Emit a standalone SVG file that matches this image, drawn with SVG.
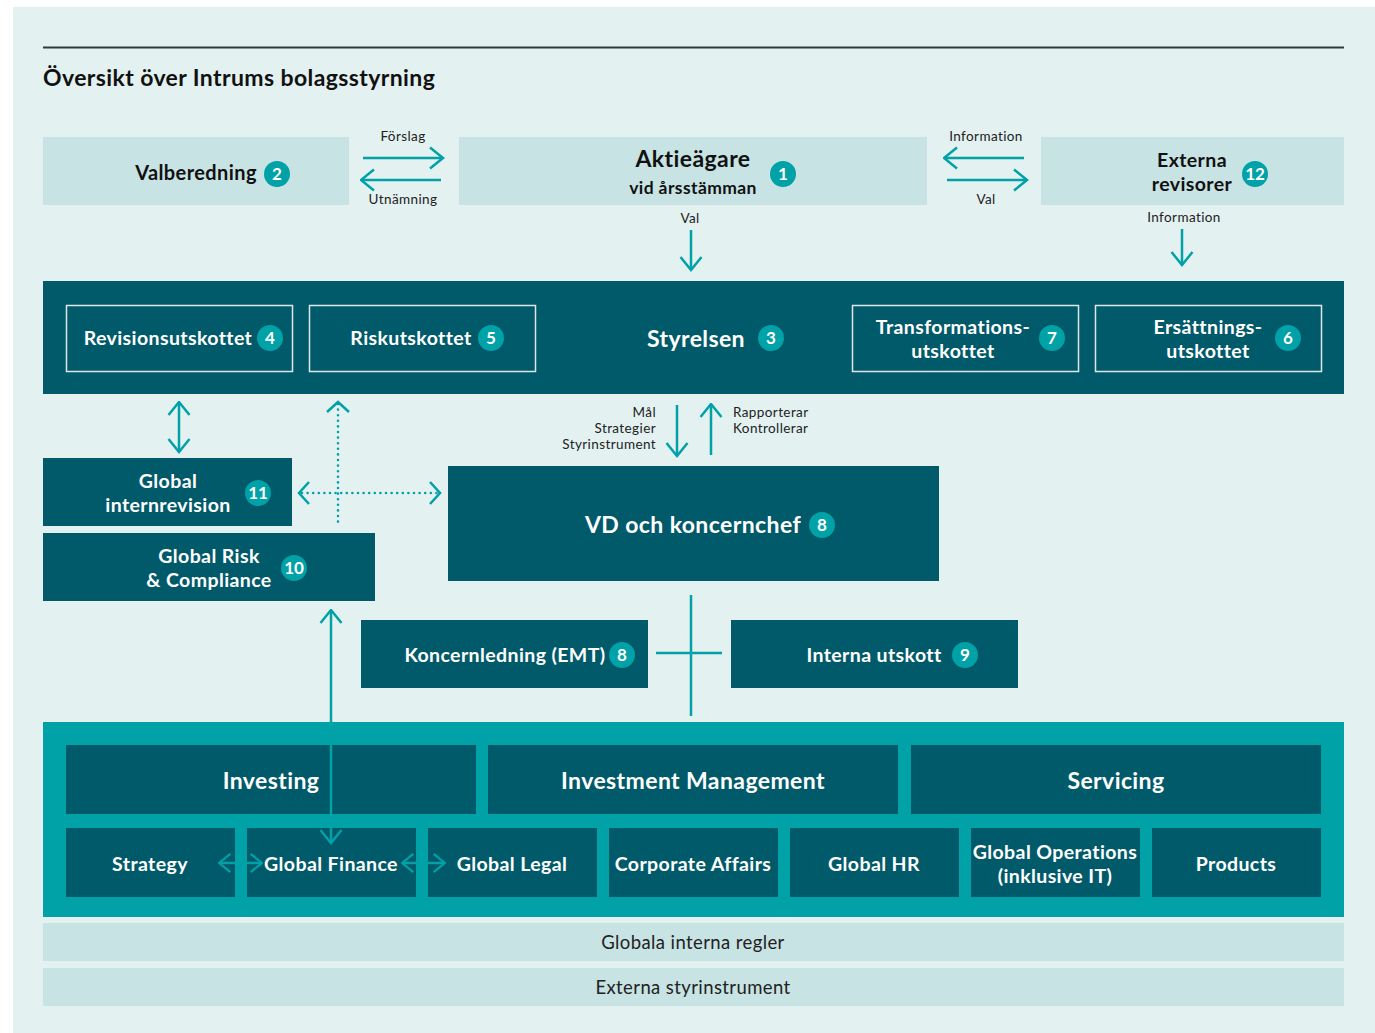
<svg xmlns="http://www.w3.org/2000/svg" width="1375" height="1033" viewBox="0 0 1375 1033">
<style>
text{font-family:"Lato","Noto Sans",sans-serif;letter-spacing:0.4px}
.light{fill:#c8e3e3}
.dark{fill:#015a69}
.teal{fill:#01a1a8}
.sub{fill:none;stroke:#dde6e8;stroke-width:1.5}
.h{font-weight:700;fill:#111;text-anchor:middle}
.w{font-weight:700;fill:#fff;text-anchor:middle}
.lbl{font-size:13.5px;fill:#222}
.badge circle{fill:#01a1a8}
.badge text{font-weight:700;fill:#fff;text-anchor:middle;font-size:17px;letter-spacing:0}
.ln{stroke:#01a1a8;stroke-width:2.5;fill:none}
.dot{stroke:#01a1a8;stroke-width:2.6;fill:none;stroke-dasharray:0 5.6;stroke-linecap:round}
.bar{font-size:18.5px;fill:#222;text-anchor:middle}
</style>
<defs>
<marker id="ah" viewBox="0 0 16 24" markerUnits="userSpaceOnUse" markerWidth="16" markerHeight="24" refX="14.5" refY="12" orient="auto-start-reverse">
<path d="M1.5,1.5 L14.5,12 L1.5,22.5" fill="none" stroke="#01a1a8" stroke-width="2.5"/>
</marker>
<marker id="ahs" viewBox="0 0 16 24" markerUnits="userSpaceOnUse" markerWidth="14" markerHeight="21" refX="14.5" refY="12" orient="auto-start-reverse">
<path d="M1.5,1.5 L14.5,12 L1.5,22.5" fill="none" stroke="#01a1a8" stroke-width="2.5"/>
</marker>
</defs>
<rect x="13" y="7" width="1362" height="1026" fill="#e3f1f1"/>
<line x1="43" y1="47.5" x2="1344" y2="47.5" stroke="#333a3c" stroke-width="2"/>
<text x="43" y="86" font-size="23" font-weight="700" fill="#111">Översikt över Intrums bolagsstyrning</text>

<g id="valberedning">
<rect class="light" x="43" y="137" width="306" height="68"/>
<text class="h" x="196" y="180" font-size="20">Valberedning</text>
<g class="badge"><circle cx="277" cy="174" r="13"/><text x="277" y="180">2</text></g>
</g>
<g id="aktieagare">
<rect class="light" x="459" y="137" width="468" height="68"/>
<text class="h" x="693" y="167" font-size="23">Aktieägare</text>
<text class="h" x="693" y="194" font-size="17.5">vid årsstämman</text>
<g class="badge"><circle cx="783" cy="174" r="13"/><text x="783" y="180">1</text></g>
</g>
<g id="externa-revisorer">
<rect class="light" x="1041" y="137" width="303" height="68"/>
<text class="h" x="1192" y="167" font-size="19.5">Externa</text>
<text class="h" x="1192" y="191" font-size="19.5">revisorer</text>
<g class="badge"><circle cx="1255" cy="174" r="13"/><text x="1255" y="180">12</text></g>
</g>

<g id="styrelsen">
<rect class="dark" x="43" y="281" width="1301" height="113"/>
<text class="w" x="696" y="347" font-size="23">Styrelsen</text>
<g class="badge"><circle cx="771" cy="338" r="13"/><text x="771" y="344">3</text></g>
</g>
<g id="revisionsutskottet">
<rect class="sub" x="66.5" y="305.5" width="226" height="66"/>
<text class="w" x="168" y="345" font-size="19.5">Revisionsutskottet</text>
<g class="badge"><circle cx="270" cy="338" r="13"/><text x="270" y="344">4</text></g>
</g>
<g id="riskutskottet">
<rect class="sub" x="309.5" y="305.5" width="226" height="66"/>
<text class="w" x="411" y="345" font-size="19.5">Riskutskottet</text>
<g class="badge"><circle cx="491" cy="338" r="13"/><text x="491" y="344">5</text></g>
</g>
<g id="transformationsutskottet">
<rect class="sub" x="852.5" y="305.5" width="226" height="66"/>
<text class="w" x="953" y="334" font-size="19.5">Transformations-</text>
<text class="w" x="953" y="358" font-size="19.5">utskottet</text>
<g class="badge"><circle cx="1052" cy="338" r="13"/><text x="1052" y="344">7</text></g>
</g>
<g id="ersattningsutskottet">
<rect class="sub" x="1095.5" y="305.5" width="226" height="66"/>
<text class="w" x="1208" y="334" font-size="19.5">Ersättnings-</text>
<text class="w" x="1208" y="358" font-size="19.5">utskottet</text>
<g class="badge"><circle cx="1288" cy="338" r="13"/><text x="1288" y="344">6</text></g>
</g>

<g id="global-internrevision">
<rect class="dark" x="43" y="458" width="249" height="68"/>
<text class="w" x="168" y="488" font-size="19.5">Global</text>
<text class="w" x="168" y="512" font-size="19.5">internrevision</text>
<g class="badge"><circle cx="258" cy="493" r="13"/><text x="258" y="499">11</text></g>
</g>
<g id="global-risk-compliance">
<rect class="dark" x="43" y="533" width="332" height="68"/>
<text class="w" x="209" y="563" font-size="19.5">Global Risk</text>
<text class="w" x="209" y="587" font-size="19.5">&amp; Compliance</text>
<g class="badge"><circle cx="294" cy="568" r="13"/><text x="294" y="574">10</text></g>
</g>
<g id="vd">
<rect class="dark" x="448" y="466" width="491" height="115"/>
<text class="w" x="693" y="533" font-size="23">VD och koncernchef</text>
<g class="badge"><circle cx="822" cy="525" r="13"/><text x="822" y="531">8</text></g>
</g>
<g id="koncernledning">
<rect class="dark" x="361" y="620" width="287" height="68"/>
<text class="w" x="505" y="662" font-size="19.5">Koncernledning (EMT)</text>
<g class="badge"><circle cx="622" cy="655" r="13"/><text x="622" y="661">8</text></g>
</g>
<g id="interna-utskott">
<rect class="dark" x="731" y="620" width="287" height="68"/>
<text class="w" x="874" y="662" font-size="19.5">Interna utskott</text>
<g class="badge"><circle cx="965" cy="655" r="13"/><text x="965" y="661">9</text></g>
</g>

<g id="organisation">
<rect class="teal" x="43" y="722" width="1301" height="195"/>
<rect class="dark" x="66" y="745" width="410" height="69"/>
<text class="w" x="271" y="789" font-size="23">Investing</text>
<rect class="dark" x="488" y="745" width="410" height="69"/>
<text class="w" x="693" y="789" font-size="23">Investment Management</text>
<rect class="dark" x="911" y="745" width="410" height="69"/>
<text class="w" x="1116" y="789" font-size="23">Servicing</text>
</g>
<g id="strategy"><rect class="dark" x="66" y="828" width="169" height="69"/><text class="w" x="150" y="871" font-size="19.5">Strategy</text></g>
<g id="global-finance"><rect class="dark" x="247" y="828" width="169" height="69"/><text class="w" x="331" y="871" font-size="19.5">Global Finance</text></g>
<g id="global-legal"><rect class="dark" x="428" y="828" width="169" height="69"/><text class="w" x="512" y="871" font-size="19.5">Global Legal</text></g>
<g id="corporate-affairs"><rect class="dark" x="609" y="828" width="169" height="69"/><text class="w" x="693" y="871" font-size="19.5">Corporate Affairs</text></g>
<g id="global-hr"><rect class="dark" x="790" y="828" width="169" height="69"/><text class="w" x="874" y="871" font-size="19.5">Global HR</text></g>
<g id="global-operations"><rect class="dark" x="971" y="828" width="169" height="69"/><text class="w" x="1055" y="859" font-size="19.5">Global Operations</text><text class="w" x="1055" y="883" font-size="19.5">(inklusive IT)</text></g>
<g id="products"><rect class="dark" x="1152" y="828" width="169" height="69"/><text class="w" x="1236" y="871" font-size="19.5">Products</text></g>

<g id="globala-interna-regler"><rect class="light" x="43" y="923" width="1301" height="38"/><text class="bar" x="693" y="949">Globala interna regler</text></g>
<g id="externa-styrinstrument"><rect class="light" x="43" y="968" width="1301" height="38"/><text class="bar" x="693" y="994">Externa styrinstrument</text></g>

<g id="connectors">
<line class="ln" x1="363" y1="158" x2="443" y2="158" marker-end="url(#ah)"/>
<line class="ln" x1="441" y1="180" x2="361" y2="180" marker-end="url(#ah)"/>
<text class="lbl" x="403" y="141" text-anchor="middle">Förslag</text>
<text class="lbl" x="403" y="204" text-anchor="middle">Utnämning</text>
<line class="ln" x1="1024" y1="158" x2="944" y2="158" marker-end="url(#ah)"/>
<line class="ln" x1="947" y1="180" x2="1027" y2="180" marker-end="url(#ah)"/>
<text class="lbl" x="986" y="141" text-anchor="middle">Information</text>
<text class="lbl" x="986" y="204" text-anchor="middle">Val</text>
<text class="lbl" x="690" y="223" text-anchor="middle">Val</text>
<line class="ln" x1="691" y1="230" x2="691" y2="270" marker-end="url(#ah)"/>
<text class="lbl" x="1184" y="222" text-anchor="middle">Information</text>
<line class="ln" x1="1182" y1="229" x2="1182" y2="265" marker-end="url(#ah)"/>

<line class="ln" x1="179" y1="402" x2="179" y2="452" marker-start="url(#ah)" marker-end="url(#ah)"/>
<line class="dot" x1="338" y1="404" x2="338" y2="524"/>
<path d="M327,412 L338,402 L349,412" class="ln"/>
<line class="dot" x1="302" y1="493" x2="438" y2="493"/>
<path d="M309,482 L299,493 L309,504 M430,482 L440,493 L430,504" class="ln"/>

<line class="ln" x1="677" y1="405" x2="677" y2="456" marker-end="url(#ah)"/>
<line class="ln" x1="711" y1="455" x2="711" y2="404" marker-end="url(#ah)"/>
<text class="lbl" x="656" y="417" text-anchor="end">Mål</text>
<text class="lbl" x="656" y="433" text-anchor="end">Strategier</text>
<text class="lbl" x="656" y="449" text-anchor="end">Styrinstrument</text>
<text class="lbl" x="733" y="417">Rapporterar</text>
<text class="lbl" x="733" y="433">Kontrollerar</text>

<line class="ln" x1="691" y1="595" x2="691" y2="716"/>
<line class="ln" x1="656" y1="653" x2="722" y2="653"/>

<line class="ln" x1="331" y1="610" x2="331" y2="843" marker-start="url(#ah)" marker-end="url(#ah)"/>

<line class="ln" x1="219" y1="863" x2="262" y2="863" marker-start="url(#ahs)" marker-end="url(#ahs)"/>
<line class="ln" x1="402" y1="863" x2="445" y2="863" marker-start="url(#ahs)" marker-end="url(#ahs)"/>
</g>
</svg>
